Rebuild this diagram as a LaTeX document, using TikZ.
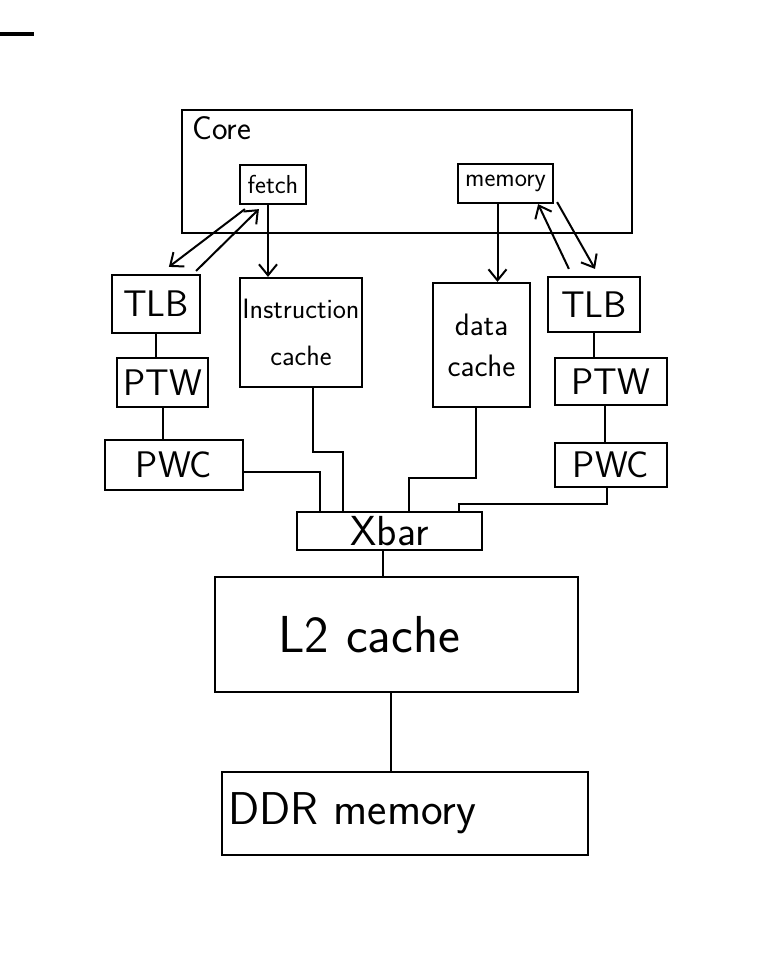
\documentclass[tikz,border=0pt]{standalone}
\usepackage{fontspec}
\usetikzlibrary{arrows.meta, positioning}

\begin{document}
\begin{tikzpicture}[
    x=1pt, y=-1pt,
    >={Straight Barb[length=11pt, width=18pt]},
    box/.style={draw, line width=2.2pt, inner sep=0pt, font=\sffamily\fontsize{26}{30}\selectfont},
    bigtext/.style={font=\sffamily\fontsize{37}{40}\selectfont},
    wire/.style={line width=2pt}
]
\useasboundingbox (0,0) rectangle (770,962);

% Stray mark
\draw[line width=4pt] (0,34) -- (34,34);

% Core with its stages
\node[box, minimum width=450, minimum height=123,
      label={[anchor=north west, xshift=8, yshift=-4, font=\sffamily\fontsize{33}{36}\selectfont]north west:Core}] (core) at (407,171.5) {};
\node[box, minimum width=66, minimum height=39] (fetch) at (273,184.5) {fetch};
\node[box, minimum width=95, minimum height=39] (mem) at (505.5,183.5) {memory};

% Left side: translation
\node[box, bigtext, minimum width=88, minimum height=58] (tlbL) at (156,304) {TLB};
\node[box, bigtext, minimum width=91, minimum height=49] (ptwL) at (162.5,382.5) {PTW};
\node[box, bigtext, minimum width=138, minimum height=50] (pwcL) at (174,465) {PWC};

% Caches
\node[box, minimum width=122, minimum height=109, align=center,
      font=\sffamily\fontsize{28}{47}\selectfont] (icache) at (301,332.5) {Instruction\\cache};
\node[box, minimum width=97, minimum height=124, align=center,
      font=\sffamily\fontsize{31}{41}\selectfont] (dcache) at (481.5,345) {data\\cache};

% Right side: translation
\node[box, bigtext, minimum width=92, minimum height=55] (tlbR) at (594,304.5) {TLB};
\node[box, bigtext, minimum width=112, minimum height=47] (ptwR) at (611,381.5) {PTW};
\node[box, bigtext, minimum width=112, minimum height=44] (pwcR) at (611,465) {PWC};

% Shared part
\node[box, font=\sffamily\fontsize{42}{44}\selectfont, minimum width=185, minimum height=38] (xbar) at (389.5,531) {Xbar};
\node[box, font=\sffamily\fontsize{52}{56}\selectfont, minimum height=115,
      text width=237, inner xsep=63, align=left] (l2) at (396.5,634.5) {L2 cache};
\node[box, font=\sffamily\fontsize{46}{50}\selectfont, minimum height=83,
      text width=354, inner xsep=6, align=left] (ddr) at (405,813.5) {DDR memory};

% Fetch side arrows
\draw[wire, ->] ([shift={(6,4)}]fetch.south west) -- ([shift={(58,-7)}]tlbL.north west);
\draw[wire, ->] ([shift={(-5,-3)}]tlbL.north east) -- ([shift={(20,4)}]fetch.south west);
\draw[wire, ->] ([xshift=-5]fetch.south) -- ([xshift=-5]fetch.south |- icache.north);

% Memory side arrows
\draw[wire, ->] ([xshift=-8]mem.south) -- ([xshift=-8]mem.south |- dcache.north);
\draw[wire, ->] ([shift={(22,-7)}]tlbR.north west) -- ([xshift=-16]mem.south east);
\draw[wire, ->] ([shift={(3,-2)}]mem.south east) -- ([shift={(1,-7)}]tlbR.north);

% Page walk chains
\draw[wire] (tlbL.south) -- (tlbL.south |- ptwL.north);
\draw[wire] (ptwL.south) -- (ptwL.south |- pwcL.north);
\draw[wire] (tlbR.south) -- (tlbR.south |- ptwR.north);
\draw[wire] ([xshift=-6]ptwR.south) -- ([xshift=-6]ptwR.south |- pwcR.north);

% Into the crossbar
\draw[wire] ([yshift=-7]pwcL.east) -| ([xshift=-70]xbar.north);
\draw[wire] ([xshift=12]icache.south) -- ++(0,64) -| ([xshift=-47]xbar.north);
\draw[wire] ([xshift=-6]dcache.south) -- ++(0,70) -| ([xshift=19]xbar.north);
\draw[wire] ([xshift=-4]pwcR.south) -- ++(0,16) -| ([xshift=69]xbar.north);

% Down to memory
\draw[wire] ([xshift=-7]xbar.south) -- ([xshift=-7]xbar.south |- l2.north);
\draw[wire] ([xshift=-6]l2.south) -- ([xshift=-6]l2.south |- ddr.north);

\end{tikzpicture}
\end{document}
